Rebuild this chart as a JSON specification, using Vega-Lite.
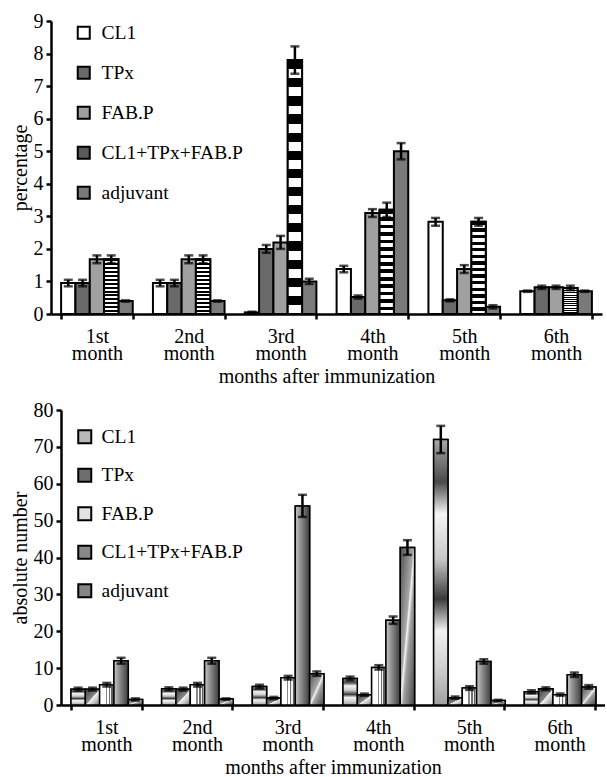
{
  "$schema": "https://vega.github.io/schema/vega-lite/v6.json",
  "background": "white",
  "padding": {"left": 10, "top": 11, "right": 0, "bottom": 0},
  "config": {
    "font": "Liberation Serif, Times New Roman, serif",
    "view": {"stroke": null},
    "axis": {
      "domainColor": "black", "domainWidth": 2.5,
      "tickColor": "black", "tickWidth": 2.5, "tickSize": 5,
      "labelFont": "Liberation Serif, Times New Roman, serif", "labelFontSize": 20, "labelColor": "black",
      "titleFont": "Liberation Serif, Times New Roman, serif", "titleFontSize": 20, "titleFontWeight": "normal", "titleColor": "black",
      "grid": false
    },
    "legend": {
      "labelFont": "Liberation Serif, Times New Roman, serif", "labelFontSize": 19.5, "labelColor": "black",
      "symbolType": "square", "symbolStrokeWidth": 2,
      "symbolOpacity": 1, "padding": 0
    }
  },
  "datasets": {
    "pct": [
      {"month": "1st month", "group": "CL1", "value": 0.95, "err": 0.1},
      {"month": "1st month", "group": "TPx", "value": 0.95, "err": 0.1},
      {"month": "1st month", "group": "FAB.P", "value": 1.68, "err": 0.12},
      {"month": "1st month", "group": "CL1+TPx+FAB.P", "value": 1.68, "err": 0.12},
      {"month": "1st month", "group": "adjuvant", "value": 0.4, "err": 0.02},
      {"month": "2nd month", "group": "CL1", "value": 0.95, "err": 0.1},
      {"month": "2nd month", "group": "TPx", "value": 0.95, "err": 0.1},
      {"month": "2nd month", "group": "FAB.P", "value": 1.68, "err": 0.12},
      {"month": "2nd month", "group": "CL1+TPx+FAB.P", "value": 1.68, "err": 0.12},
      {"month": "2nd month", "group": "adjuvant", "value": 0.4, "err": 0.02},
      {"month": "3rd month", "group": "CL1", "value": 0.05, "err": 0.02},
      {"month": "3rd month", "group": "TPx", "value": 2.0, "err": 0.12},
      {"month": "3rd month", "group": "FAB.P", "value": 2.2, "err": 0.2},
      {"month": "3rd month", "group": "CL1+TPx+FAB.P", "value": 7.8, "err": 0.42},
      {"month": "3rd month", "group": "adjuvant", "value": 1.0, "err": 0.08},
      {"month": "4th month", "group": "CL1", "value": 1.38, "err": 0.1},
      {"month": "4th month", "group": "TPx", "value": 0.52, "err": 0.05},
      {"month": "4th month", "group": "FAB.P", "value": 3.1, "err": 0.12},
      {"month": "4th month", "group": "CL1+TPx+FAB.P", "value": 3.2, "err": 0.22},
      {"month": "4th month", "group": "adjuvant", "value": 5.0, "err": 0.25},
      {"month": "5th month", "group": "CL1", "value": 2.83, "err": 0.12},
      {"month": "5th month", "group": "TPx", "value": 0.42, "err": 0.03},
      {"month": "5th month", "group": "FAB.P", "value": 1.38, "err": 0.12},
      {"month": "5th month", "group": "CL1+TPx+FAB.P", "value": 2.83, "err": 0.12},
      {"month": "5th month", "group": "adjuvant", "value": 0.22, "err": 0.05},
      {"month": "6th month", "group": "CL1", "value": 0.7, "err": 0.02},
      {"month": "6th month", "group": "TPx", "value": 0.82, "err": 0.05},
      {"month": "6th month", "group": "FAB.P", "value": 0.82, "err": 0.05},
      {"month": "6th month", "group": "CL1+TPx+FAB.P", "value": 0.8, "err": 0.07},
      {"month": "6th month", "group": "adjuvant", "value": 0.7, "err": 0.02}
    ],
    "abs": [
      {"month": "1st month", "group": "CL1", "value": 4.3, "err": 0.4},
      {"month": "1st month", "group": "TPx", "value": 4.3, "err": 0.4},
      {"month": "1st month", "group": "FAB.P", "value": 5.5, "err": 0.5},
      {"month": "1st month", "group": "CL1+TPx+FAB.P", "value": 12.0, "err": 0.8},
      {"month": "1st month", "group": "adjuvant", "value": 1.5, "err": 0.3},
      {"month": "2nd month", "group": "CL1", "value": 4.4, "err": 0.4},
      {"month": "2nd month", "group": "TPx", "value": 4.3, "err": 0.4},
      {"month": "2nd month", "group": "FAB.P", "value": 5.5, "err": 0.5},
      {"month": "2nd month", "group": "CL1+TPx+FAB.P", "value": 12.0, "err": 0.8},
      {"month": "2nd month", "group": "adjuvant", "value": 1.6, "err": 0.2},
      {"month": "3rd month", "group": "CL1", "value": 5.0, "err": 0.5},
      {"month": "3rd month", "group": "TPx", "value": 1.9, "err": 0.3},
      {"month": "3rd month", "group": "FAB.P", "value": 7.4, "err": 0.5},
      {"month": "3rd month", "group": "CL1+TPx+FAB.P", "value": 54.0, "err": 3.0},
      {"month": "3rd month", "group": "adjuvant", "value": 8.5, "err": 0.6},
      {"month": "4th month", "group": "CL1", "value": 7.2, "err": 0.5},
      {"month": "4th month", "group": "TPx", "value": 2.8, "err": 0.3},
      {"month": "4th month", "group": "FAB.P", "value": 10.2, "err": 0.6},
      {"month": "4th month", "group": "CL1+TPx+FAB.P", "value": 23.0, "err": 1.0},
      {"month": "4th month", "group": "adjuvant", "value": 42.7, "err": 2.0},
      {"month": "5th month", "group": "CL1", "value": 72.0, "err": 3.7},
      {"month": "5th month", "group": "TPx", "value": 2.0, "err": 0.3},
      {"month": "5th month", "group": "FAB.P", "value": 4.6, "err": 0.5},
      {"month": "5th month", "group": "CL1+TPx+FAB.P", "value": 11.8, "err": 0.6},
      {"month": "5th month", "group": "adjuvant", "value": 1.2, "err": 0.2},
      {"month": "6th month", "group": "CL1", "value": 3.6, "err": 0.4},
      {"month": "6th month", "group": "TPx", "value": 4.4, "err": 0.4},
      {"month": "6th month", "group": "FAB.P", "value": 2.8, "err": 0.3},
      {"month": "6th month", "group": "CL1+TPx+FAB.P", "value": 8.2, "err": 0.6},
      {"month": "6th month", "group": "adjuvant", "value": 4.9, "err": 0.5}
    ]
  },
  "spacing": 14,
  "resolve": {"scale": {"fill": "independent", "stroke": "independent"}, "legend": {"fill": "independent", "stroke": "independent"}},
  "vconcat": [
    {
      "width": 551,
      "height": 293,
      "data": {"name": "pct"},
      "encoding": {
        "x": {
          "field": "month", "type": "nominal",
          "sort": ["1st month", "2nd month", "3rd month", "4th month", "5th month", "6th month"],
          "scale": {"paddingInner": 0.22, "paddingOuter": 0.11},
          "axis": {"title": "months after immunization", "labelAngle": 0, "tickBand": "extent",
                   "labelExpr": "split(datum.label, ' ')", "labelLineHeight": 17, "labelPadding": 7, "titlePadding": 3}
        },
        "xOffset": {"field": "group", "type": "nominal", "scale": {"domain": ["CL1", "TPx", "FAB.P", "CL1+TPx+FAB.P", "adjuvant"]}},
        "y": {
          "field": "value", "type": "quantitative",
          "scale": {"domain": [0, 9], "nice": false},
          "axis": {"title": "percentage", "values": [0, 1, 2, 3, 4, 5, 6, 7, 8, 9], "labelPadding": 3, "titlePadding": 3}
        }
      },
      "layer": [
        {
          "mark": {"type": "bar", "strokeWidth": 2},
          "encoding": {
            "fill": {
              "field": "group", "type": "nominal",
              "scale": {
                "domain": ["CL1", "TPx", "FAB.P", "CL1+TPx+FAB.P", "adjuvant"],
                "range": ["#ffffff", "#6a6a6a", "#a0a0a0", "#5a5a5a", "#7a7a7a"]
              },
              "legend": {"orient": "none", "legendX": 23, "legendY": 2, "title": null, "symbolSize": 144, "rowPadding": 19, "labelOffset": 8}
            },
            "stroke": {
              "field": "group", "type": "nominal",
              "scale": {
                "domain": ["CL1", "TPx", "FAB.P", "CL1+TPx+FAB.P", "adjuvant"],
                "range": ["black", "black", "black", "black", "black"]
              },
              "legend": {"orient": "none", "legendX": 23, "legendY": 2, "title": null, "symbolSize": 144, "rowPadding": 19, "labelOffset": 8}
            }
          }
        },
        {
          "transform": [{"filter": "datum.group === 'CL1+TPx+FAB.P'"}],
          "mark": {"type": "bar", "stroke": "black", "strokeWidth": 2,
            "fill": {"gradient": "linear", "x1": 0, "y1": 0, "x2": 0, "y2": 1, "stops": [
              {"offset": 0, "color": "black"}, {"offset": 0.036, "color": "black"}, {"offset": 0.036, "color": "white"}, {"offset": 0.071, "color": "white"},
              {"offset": 0.071, "color": "black"}, {"offset": 0.107, "color": "black"}, {"offset": 0.107, "color": "white"}, {"offset": 0.143, "color": "white"},
              {"offset": 0.143, "color": "black"}, {"offset": 0.179, "color": "black"}, {"offset": 0.179, "color": "white"}, {"offset": 0.214, "color": "white"},
              {"offset": 0.214, "color": "black"}, {"offset": 0.25, "color": "black"}, {"offset": 0.25, "color": "white"}, {"offset": 0.286, "color": "white"},
              {"offset": 0.286, "color": "black"}, {"offset": 0.321, "color": "black"}, {"offset": 0.321, "color": "white"}, {"offset": 0.357, "color": "white"},
              {"offset": 0.357, "color": "black"}, {"offset": 0.393, "color": "black"}, {"offset": 0.393, "color": "white"}, {"offset": 0.429, "color": "white"},
              {"offset": 0.429, "color": "black"}, {"offset": 0.464, "color": "black"}, {"offset": 0.464, "color": "white"}, {"offset": 0.5, "color": "white"},
              {"offset": 0.5, "color": "black"}, {"offset": 0.536, "color": "black"}, {"offset": 0.536, "color": "white"}, {"offset": 0.571, "color": "white"},
              {"offset": 0.571, "color": "black"}, {"offset": 0.607, "color": "black"}, {"offset": 0.607, "color": "white"}, {"offset": 0.643, "color": "white"},
              {"offset": 0.643, "color": "black"}, {"offset": 0.679, "color": "black"}, {"offset": 0.679, "color": "white"}, {"offset": 0.714, "color": "white"},
              {"offset": 0.714, "color": "black"}, {"offset": 0.75, "color": "black"}, {"offset": 0.75, "color": "white"}, {"offset": 0.786, "color": "white"},
              {"offset": 0.786, "color": "black"}, {"offset": 0.821, "color": "black"}, {"offset": 0.821, "color": "white"}, {"offset": 0.857, "color": "white"},
              {"offset": 0.857, "color": "black"}, {"offset": 0.893, "color": "black"}, {"offset": 0.893, "color": "white"}, {"offset": 0.929, "color": "white"},
              {"offset": 0.929, "color": "black"}, {"offset": 0.964, "color": "black"}, {"offset": 0.964, "color": "white"}, {"offset": 1, "color": "white"}
            ]}
          }
        },
        {
          "mark": {"type": "errorbar", "color": "black", "thickness": 2.5, "ticks": {"size": 9, "thickness": 2.5, "color": "black"}},
          "encoding": {"yError": {"field": "err"}}
        }
      ]
    },
    {
      "width": 554,
      "height": 295,
      "data": {"name": "abs"},
      "encoding": {
        "x": {
          "field": "month", "type": "nominal",
          "sort": ["1st month", "2nd month", "3rd month", "4th month", "5th month", "6th month"],
          "scale": {"paddingInner": 0.22, "paddingOuter": 0.11, "range": [10, 554]},
          "axis": {"title": "months after immunization", "labelAngle": 0, "tickBand": "extent",
                   "labelExpr": "split(datum.label, ' ')", "labelLineHeight": 17, "labelPadding": 7, "titlePadding": 3}
        },
        "xOffset": {"field": "group", "type": "nominal", "scale": {"domain": ["CL1", "TPx", "FAB.P", "CL1+TPx+FAB.P", "adjuvant"]}},
        "y": {
          "field": "value", "type": "quantitative",
          "scale": {"domain": [0, 80], "nice": false},
          "axis": {"title": "absolute number", "values": [0, 10, 20, 30, 40, 50, 60, 70, 80], "labelPadding": 3, "titlePadding": 3, "offset": -10}
        }
      },
      "layer": [
        {
          "mark": {"type": "bar", "strokeWidth": 1.5},
          "encoding": {
            "fill": {
              "field": "group", "type": "nominal",
              "scale": {
                "domain": ["CL1", "TPx", "FAB.P", "CL1+TPx+FAB.P", "adjuvant"],
                "range": ["#b8b8b8", "#6e6e6e", "#e2e2e2", "#8a8a8a", "#868686"]
              },
              "legend": {"orient": "none", "legendX": 24, "legendY": 17, "title": null, "symbolSize": 169, "rowPadding": 16.5, "labelOffset": 7}
            },
            "stroke": {
              "field": "group", "type": "nominal",
              "scale": {
                "domain": ["CL1", "TPx", "FAB.P", "CL1+TPx+FAB.P", "adjuvant"],
                "range": ["black", "black", "black", "black", "black"]
              },
              "legend": {"orient": "none", "legendX": 24, "legendY": 17, "title": null, "symbolSize": 169, "rowPadding": 16.5, "labelOffset": 7}
            }
          }
        },
        {
          "transform": [{"filter": "datum.group === 'CL1'"}],
          "mark": {"type": "bar", "stroke": "black", "strokeWidth": 1.5,
            "fill": {"gradient": "linear", "x1": 0, "y1": 0, "x2": 0, "y2": 1, "stops": [
              {"offset": 0, "color": "#a8a8a8"}, {"offset": 0.16, "color": "#4a4a4a"}, {"offset": 0.28, "color": "#f5f5f5"},
              {"offset": 0.45, "color": "#c8c8c8"}, {"offset": 0.6, "color": "#3a3a3a"}, {"offset": 0.72, "color": "#f2f2f2"},
              {"offset": 0.86, "color": "#cfcfcf"}, {"offset": 1, "color": "#a0a0a0"}
            ]}
          }
        },
        {
          "transform": [{"filter": "datum.group === 'TPx'"}],
          "mark": {"type": "bar", "stroke": "black", "strokeWidth": 1.5,
            "fill": {"gradient": "linear", "x1": 0, "y1": 0, "x2": 1, "y2": 1, "stops": [
              {"offset": 0, "color": "#3a3a3a"}, {"offset": 0.5, "color": "#8a8a8a"}, {"offset": 0.52, "color": "#f2f2f2"},
              {"offset": 0.75, "color": "#c0c0c0"}, {"offset": 1, "color": "#6a6a6a"}
            ]}
          }
        },
        {
          "transform": [{"filter": "datum.group === 'FAB.P'"}],
          "mark": {"type": "bar", "stroke": "black", "strokeWidth": 1.5,
            "fill": {"gradient": "linear", "x1": 0, "y1": 0, "x2": 1, "y2": 0, "stops": [
              {"offset": 0, "color": "#ffffff"}, {"offset": 0.42, "color": "#ffffff"}, {"offset": 0.42, "color": "#8a8a8a"},
              {"offset": 0.52, "color": "#8a8a8a"}, {"offset": 0.52, "color": "#ffffff"}, {"offset": 0.62, "color": "#ffffff"},
              {"offset": 0.62, "color": "#707070"}, {"offset": 0.72, "color": "#707070"}, {"offset": 0.72, "color": "#f0f0f0"},
              {"offset": 0.82, "color": "#f0f0f0"}, {"offset": 0.82, "color": "#606060"}, {"offset": 0.92, "color": "#606060"},
              {"offset": 0.92, "color": "#d0d0d0"}, {"offset": 1, "color": "#d0d0d0"}
            ]}
          }
        },
        {
          "transform": [{"filter": "datum.group === 'CL1+TPx+FAB.P'"}],
          "mark": {"type": "bar", "stroke": "black", "strokeWidth": 1.5,
            "fill": {"gradient": "linear", "x1": 0, "y1": 0, "x2": 1, "y2": 0, "stops": [
              {"offset": 0, "color": "#c8c8c8"}, {"offset": 0.4, "color": "#8c8c8c"}, {"offset": 1, "color": "#3c3c3c"}
            ]}
          }
        },
        {
          "transform": [{"filter": "datum.group === 'adjuvant'"}],
          "mark": {"type": "bar", "stroke": "black", "strokeWidth": 1.5,
            "fill": {"gradient": "linear", "x1": 0, "y1": 0, "x2": 1, "y2": 1, "stops": [
              {"offset": 0, "color": "#505050"}, {"offset": 0.45, "color": "#a8a8a8"}, {"offset": 0.5, "color": "#f5f5f5"},
              {"offset": 0.6, "color": "#a0a0a0"}, {"offset": 1, "color": "#444444"}
            ]}
          }
        },
        {
          "mark": {"type": "errorbar", "color": "black", "thickness": 2.5, "ticks": {"size": 9, "thickness": 2.5, "color": "black"}},
          "encoding": {"yError": {"field": "err"}}
        }
      ]
    }
  ]
}
